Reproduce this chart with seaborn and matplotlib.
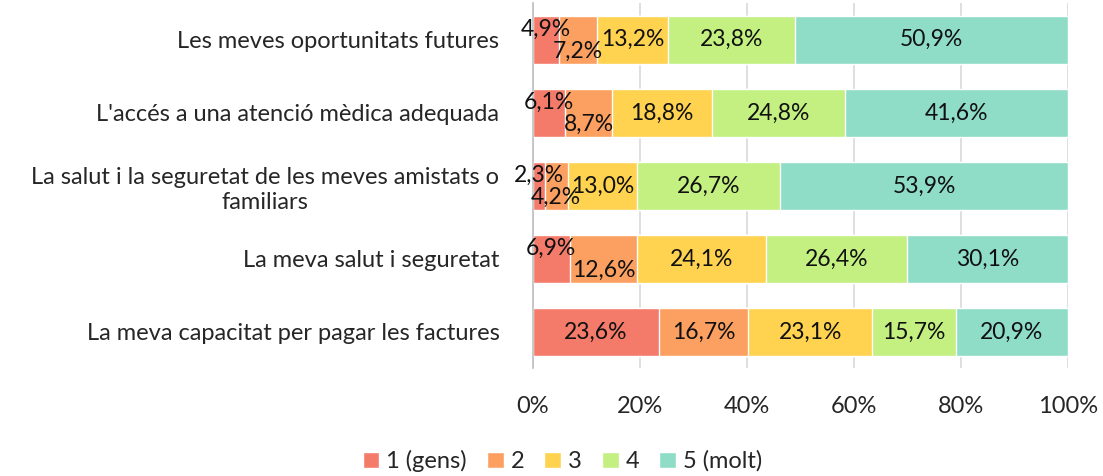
import numpy as np
import pandas as pd
import seaborn as sns
import matplotlib.pyplot as plt
from matplotlib.patches import Patch

# Dades (percentatges per categoria i per nivell de preocupacio)
categories = [
    "Les meves oportunitats futures",
    "L'accés a una atenció mèdica adequada",
    "La salut i la seguretat de les meves amistats o\nfamiliars",
    "La meva salut i seguretat",
    "La meva capacitat per pagar les factures",
]
levels = ["1 (gens)", "2", "3", "4", "5 (molt)"]
v1 = [4.9, 6.1, 2.3, 6.9, 23.6]
v2 = [7.2, 8.7, 4.2, 12.6, 16.7]
v3 = [13.2, 18.8, 13.0, 24.1, 23.1]
v4 = [23.8, 24.8, 26.7, 26.4, 15.7]
v5 = [50.9, 41.6, 53.9, 30.1, 20.9]

colors = ["#F47B6A", "#FBA060", "#FFD24F", "#C3F081", "#8FDDC6"]

sns.set_theme(style="white")
plt.rcParams["font.family"] = ["Lato", "DejaVu Sans"]

values = np.array([v1, v2, v3, v4, v5])  # nivell x categoria
cum = np.cumsum(values, axis=0)

fig = plt.figure(figsize=(11.03, 4.76), dpi=100)
ax = fig.add_axes([0.483, 0.226, 0.485, 0.767])

# capes acumulades, de la mes llarga a la mes curta
for i in range(len(levels) - 1, -1, -1):
    df = pd.DataFrame({"cat": categories, "x": np.minimum(cum[i], 100)})
    sns.barplot(data=df, x="x", y="cat", orient="h", color=colors[i],
                saturation=1, width=0.66, ax=ax)

# etiquetes de dades (les petites es desplacen amunt/avall)
for j, cat in enumerate(categories):
    small = values[0, j] < 10
    for i in range(len(levels)):
        left = cum[i, j] - values[i, j]
        xc = left + values[i, j] / 2
        dy = 0
        if small and i == 0:
            dy = -0.14
        elif small and i == 1:
            dy = 0.16
        ax.text(xc, j + dy, f"{values[i, j]:.1f}%".replace(".", ","),
                ha="center", va="center", fontsize=16.5, color="#111111")

ax.set_xlim(0, 100)
ax.set_ylim(len(categories) - 0.5, -0.5)
ax.set_xticks([0, 20, 40, 60, 80, 100])
ax.set_xticklabels([f"{t}%" for t in [0, 20, 40, 60, 80, 100]])
ax.set_xlabel("")
ax.set_ylabel("")
ax.tick_params(axis="x", labelsize=17, pad=20, length=0)
ax.tick_params(axis="y", labelsize=17, pad=24, length=0)
for lab in ax.get_yticklabels():
    lab.set_multialignment("center")
    lab.set_linespacing(1.25)

ax.grid(axis="x", color="#D9D9D9", linewidth=1.2)
ax.set_axisbelow(True)
for s in ["top", "right", "bottom"]:
    ax.spines[s].set_visible(False)
ax.spines["left"].set_color("#BFBFBF")
ax.spines["left"].set_linewidth(1.2)

handles = [Patch(facecolor=c, label=l) for c, l in zip(colors, levels)]
fig.legend(handles=handles, loc="center", bbox_to_anchor=(0.51, 1 - 461 / 476),
           ncol=5, frameon=False, fontsize=17, handlelength=0.7,
           handleheight=0.7, handletextpad=0.3, columnspacing=0.85)

fig.savefig("out.png", dpi=100)
